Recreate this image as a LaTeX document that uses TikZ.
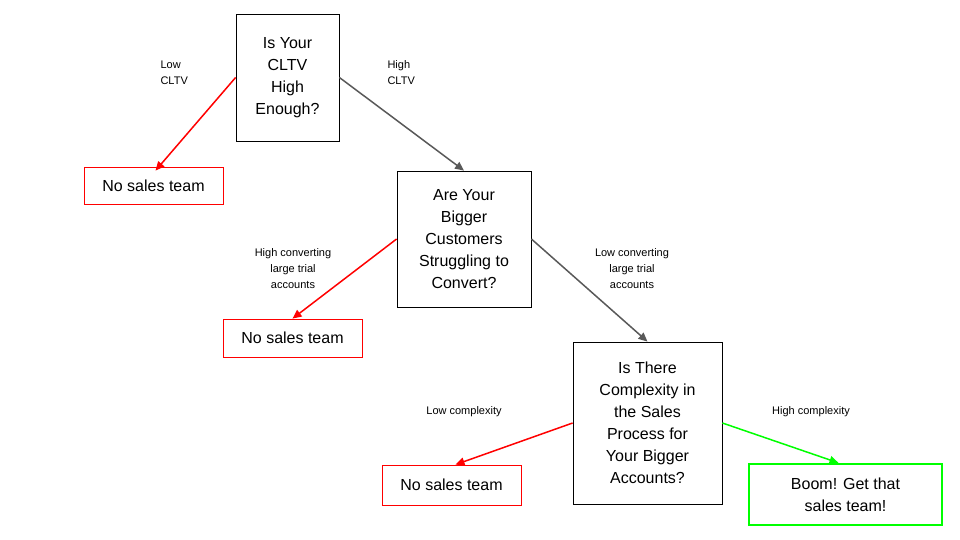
\documentclass[tikz,border=0pt]{standalone}
\usepackage{fontspec}
\setmainfont{Liberation Sans}
\usetikzlibrary{arrows.meta}
\begin{document}
\begin{tikzpicture}[x=1pt,y=-1pt,
  qbox/.style={draw=black,line width=0.8pt,align=center,font=\fontsize{16}{22}\selectfont,inner sep=0pt},
  nbox/.style={draw=red,line width=0.8pt,align=center,font=\fontsize{16}{20}\selectfont,inner sep=0pt},
  gbox/.style={draw=green,line width=2.2pt,align=center,font=\fontsize{16}{22}\selectfont,inner sep=0pt},
  lab/.style={font=\fontsize{11}{16}\selectfont,align=center},
  arr/.style={line width=1.5pt,-{Triangle[length=9pt,width=8pt]}},
  rarr/.style={arr,draw=red,fill=red},
  karr/.style={arr,draw=black!65,fill=black!65},
  garr/.style={arr,draw=green,fill=green}]
\useasboundingbox (0,0) rectangle (960,540);
\node[qbox,minimum width=103pt,minimum height=127pt] (q1) at (287.5,77.5) {Is Your\\CLTV\\High\\Enough?};
\node[nbox,minimum width=139pt,minimum height=37pt] (n1) at (153.5,185.5) {No sales team};
\node[qbox,minimum width=134pt,minimum height=136pt] (q2) at (464,239) {Are Your\\Bigger\\Customers\\Struggling to\\Convert?};
\node[nbox,minimum width=139pt,minimum height=38pt] (n2) at (292.5,338) {No sales team};
\node[qbox,minimum width=149pt,minimum height=162pt] (q3) at (647.5,423) {Is There\\Complexity in\\the Sales\\Process for\\Your Bigger\\Accounts?};
\node[nbox,minimum width=139pt,minimum height=40pt] (n3) at (451.5,485) {No sales team};
\node[gbox,minimum width=193pt,minimum height=61pt] (b) at (845.5,494.5) {Boom! Get that\\sales team!};
\draw[rarr] (q1.west) -- ([yshift=-4pt,xshift=2pt]n1.north);
\draw[karr] (q1.east) -- (q2.north);
\draw[rarr] (q2.west) -- (n2.north);
\draw[karr] (q2.east) -- (q3.north);
\draw[rarr] (q3.west) -- ([xshift=4pt]n3.north);
\draw[garr] (q3.east) -- ([xshift=-7pt]b.north);
\node[lab,align=left,anchor=west] (l1) at (157,73) {Low\\CLTV};
\node[lab,align=left,anchor=west] (l2) at (384,73) {High\\CLTV};
\node[lab] (l3) at (293,269) {High converting\\large trial\\accounts};
\node[lab] (l4) at (632,269) {Low converting\\large trial\\accounts};
\node[lab] (l5) at (464,412) {Low complexity};
\node[lab] (l6) at (811,412) {High complexity};
\end{tikzpicture}
\end{document}
